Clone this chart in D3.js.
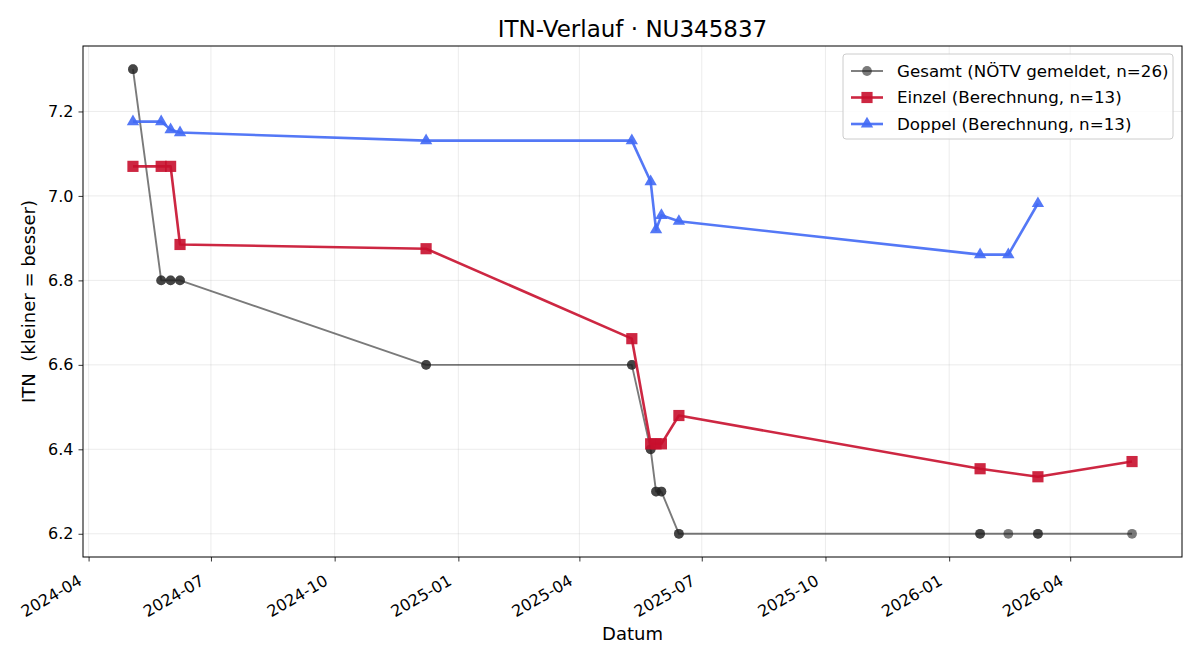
<!DOCTYPE html>
<html>
<head>
<meta charset="utf-8">
<script src="https://cdn.jsdelivr.net/npm/d3@7"></script>
<style>
  body { margin: 0; background: #fff; }
  svg { font-family: "DejaVu Sans", sans-serif; }
</style>
</head>
<body>
<div id="chart"></div>
<script>
// Gesamt (reported), one entry per report -> 26 points, some dates twice
var gesamtDates = ["2024-05-04","2024-05-04","2024-05-25","2024-05-25","2024-06-01","2024-06-01",
    "2024-06-08","2024-06-08","2024-12-08","2024-12-08","2025-05-10","2025-05-10",
    "2025-05-24","2025-05-24","2025-05-28","2025-05-28","2025-06-01","2025-06-01",
    "2025-06-14","2025-06-14","2026-01-24","2026-01-24","2026-02-14","2026-03-08",
    "2026-03-08","2026-05-17"];
var gesamtValues = [7.3,7.3,6.8,6.8,6.8,6.8,6.8,6.8,6.6,6.6,6.6,6.6,6.4,6.4,6.3,6.3,6.3,6.3,
    6.2,6.2,6.2,6.2,6.2,6.2,6.2,6.2];

var einzelDates = ["2024-05-04","2024-05-25","2024-06-01","2024-06-08","2024-12-08","2025-05-10",
    "2025-05-24","2025-05-28","2025-06-01","2025-06-14","2026-01-24","2026-03-08","2026-05-17"];
var einzelValues = [7.07,7.07,7.07,6.885,6.875,6.662,6.413,6.413,6.413,6.48,6.354,6.335,6.371];

var doppelDates = ["2024-05-04","2024-05-25","2024-06-01","2024-06-08","2024-12-08","2025-05-10",
    "2025-05-24","2025-05-28","2025-06-01","2025-06-14","2026-01-24","2026-02-14","2026-03-08"];
var doppelValues = [7.176,7.176,7.157,7.15,7.131,7.131,7.034,6.92,6.954,6.94,6.861,6.861,6.982];

var yTicks = [6.2, 6.4, 6.6, 6.8, 7.0, 7.2];
var legendLabels = ["Gesamt (NÖTV gemeldet, n=26)", "Einzel (Berechnung, n=13)", "Doppel (Berechnung, n=13)"];

var parse = d3.timeParse("%Y-%m-%d");
function toPoints(dates, values) {
    return dates.map(function (d, i) { return {date: parse(d), value: values[i]}; });
}

var series = [
    {name: legendLabels[0], data: toPoints(gesamtDates, gesamtValues), color: "#222222",
        opacity: 0.6, width: 1.9, symbol: d3.symbolCircle, size: 75},
    {name: legendLabels[1], data: toPoints(einzelDates, einzelValues), color: "#c8102e",
        opacity: 0.9, width: 2.6, symbol: d3.symbolSquare, size: 125},
    {name: legendLabels[2], data: toPoints(doppelDates, doppelValues), color: "#4169f5",
        opacity: 0.9, width: 2.6, symbol: d3.symbolTriangle, size: 66}
];

var svgWidth = 1200, svgHeight = 660;
var margin = {top: 46, right: 18, bottom: 103, left: 83};
var graphWidth = svgWidth - margin.left - margin.right;
var graphHeight = svgHeight - margin.top - margin.bottom;

var svg = d3.select("#chart").append("svg")
    .attr("width", svgWidth)
    .attr("height", svgHeight);
var g = svg.append("g")
    .attr("transform", "translate(" + margin.left + "," + margin.top + ")");

// Scales, 5% padding like matplotlib
var allDates = [].concat(series[0].data, series[1].data, series[2].data).map(d => d.date);
var xExt = d3.extent(allDates);
var xPad = (xExt[1] - xExt[0]) * 0.05;
var x = d3.scaleTime()
    .domain([new Date(+xExt[0] - xPad), new Date(+xExt[1] + xPad)])
    .range([0, graphWidth]);

var yMin = 6.2, yMax = 7.3, yPad = (yMax - yMin) * 0.05;
var y = d3.scaleLinear()
    .domain([yMin - yPad, yMax + yPad])
    .range([graphHeight, 0]);

var xTickVals = x.ticks(d3.timeMonth.every(3));

// Grid
g.append("g").selectAll("line").data(xTickVals).enter().append("line")
    .attr("x1", d => x(d)).attr("x2", d => x(d))
    .attr("y1", 0).attr("y2", graphHeight)
    .attr("stroke", "#b0b0b0").attr("stroke-opacity", 0.3).attr("stroke-width", 0.8);
g.append("g").selectAll("line").data(yTicks).enter().append("line")
    .attr("x1", 0).attr("x2", graphWidth)
    .attr("y1", d => y(d)).attr("y2", d => y(d))
    .attr("stroke", "#b0b0b0").attr("stroke-opacity", 0.3).attr("stroke-width", 0.8);

// Axes
var xAxis = g.append("g")
    .attr("transform", "translate(0," + graphHeight + ")")
    .call(d3.axisBottom(x).tickValues(xTickVals).tickFormat(d3.timeFormat("%Y-%m")).tickSizeOuter(0).tickSize(4.5));
xAxis.attr("font-size", null).attr("font-family", null);
xAxis.selectAll("text")
    .style("font-size", "16px")
    .attr("fill", "#000")
    .attr("y", null).attr("dy", null)
    .style("text-anchor", "end")
    .attr("transform", "translate(-6,27) rotate(-30)");

var yAxis = g.append("g")
    .call(d3.axisLeft(y).tickValues(yTicks).tickFormat(d3.format(".1f")).tickSizeOuter(0).tickSize(4.5).tickPadding(5));
yAxis.attr("font-size", null).attr("font-family", null);
yAxis.selectAll("text").style("font-size", "16px").attr("fill", "#000");
g.selectAll(".domain").remove();
g.selectAll(".tick line").attr("stroke", "#000").attr("stroke-width", 0.8);

// Frame
g.append("rect")
    .attr("x", 0).attr("y", 0)
    .attr("width", graphWidth).attr("height", graphHeight)
    .attr("fill", "none").attr("stroke", "#000").attr("stroke-width", 1);

// Lines and markers
var line = d3.line().x(d => x(d.date)).y(d => y(d.value));
series.forEach(function (s) {
    var sg = g.append("g");
    sg.append("path")
        .datum(s.data)
        .attr("d", line)
        .attr("fill", "none")
        .attr("stroke", s.color)
        .attr("stroke-opacity", s.opacity)
        .attr("stroke-width", s.width)
        .attr("stroke-linejoin", "round");
    sg.selectAll(".pt").data(s.data).enter().append("path")
        .attr("d", d3.symbol().type(s.symbol).size(s.size))
        .attr("transform", d => "translate(" + x(d.date) + "," + y(d.value) + ")")
        .attr("fill", s.color)
        .attr("fill-opacity", s.opacity);
});

// Title and labels
svg.append("text")
    .attr("x", margin.left + graphWidth / 2).attr("y", 36.5)
    .attr("text-anchor", "middle").style("font-size", "23px")
    .text("ITN-Verlauf · NU345837");
svg.append("text")
    .attr("x", margin.left + graphWidth / 2).attr("y", 640)
    .attr("text-anchor", "middle").style("font-size", "18px")
    .text("Datum");
svg.append("text")
    .attr("transform", "translate(35," + (margin.top + graphHeight / 2) + ") rotate(-90)")
    .attr("text-anchor", "middle").style("font-size", "18px")
    .style("white-space", "pre")
    .text("ITN  (kleiner = besser)");

// Legend
var lg = svg.append("g").attr("transform", "translate(843,54)");
lg.append("rect")
    .attr("width", 330).attr("height", 85).attr("rx", 3)
    .attr("fill", "#fff").attr("fill-opacity", 0.8)
    .attr("stroke", "#cccccc").attr("stroke-width", 1);
series.forEach(function (s, i) {
    var row = lg.append("g").attr("transform", "translate(0," + (17 + i * 26.5) + ")");
    row.append("line")
        .attr("x1", 8).attr("x2", 40)
        .attr("stroke", s.color).attr("stroke-opacity", s.opacity)
        .attr("stroke-width", s.width);
    row.append("path")
        .attr("d", d3.symbol().type(s.symbol).size(s.size))
        .attr("transform", "translate(24,0)")
        .attr("fill", s.color).attr("fill-opacity", s.opacity);
    row.append("text")
        .attr("x", 54).attr("dy", "0.35em")
        .style("font-size", "16.7px")
        .text(s.name);
});
</script>
</body>
</html>
